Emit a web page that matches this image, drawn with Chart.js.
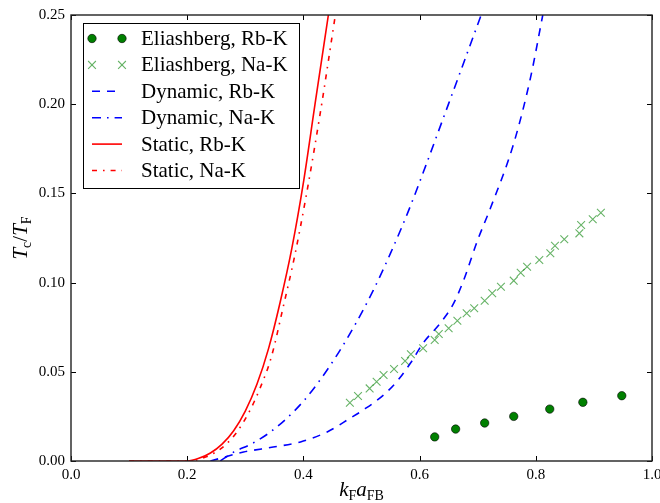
<!DOCTYPE html>
<html>
<head>
<meta charset="utf-8">
<script src="https://cdn.jsdelivr.net/npm/chart.js@4.4.1/dist/chart.umd.min.js"></script>
<style>
  html, body { margin: 0; padding: 0; background: #fff; }
  canvas { display: block; }
</style>
</head>
<body>
<canvas id="tcChart" width="660" height="503"></canvas>
<script>
// Eliashberg results (markers)
const eliRbX = [0.626, 0.662, 0.712, 0.762, 0.824, 0.881, 0.948];
const eliRbY = [0.0135, 0.0179, 0.0213, 0.0250, 0.0291, 0.0329, 0.0366];

const eliNaX = [0.480, 0.494, 0.514, 0.526, 0.538, 0.556, 0.575, 0.585, 0.606, 0.626,
                0.633, 0.650, 0.665, 0.681, 0.694, 0.712, 0.725, 0.740, 0.762, 0.774,
                0.785, 0.806, 0.825, 0.833, 0.849, 0.875, 0.878, 0.898, 0.912];
const eliNaY = [0.0327, 0.0364, 0.0407, 0.0444, 0.0482, 0.0516, 0.0561, 0.0598, 0.0632, 0.0678,
                0.0712, 0.0744, 0.0786, 0.0828, 0.0856, 0.0898, 0.0940, 0.0977, 0.1011, 0.1055,
                0.1089, 0.1127, 0.1164, 0.1207, 0.1243, 0.1276, 0.1323, 0.1355, 0.1392];

// dynamic screening curves
const dynRbX = [0.240, 0.297, 0.348, 0.395, 0.441, 0.481, 0.503, 0.538, 0.562, 0.585,
                0.607, 0.636, 0.659, 0.676, 0.700, 0.722, 0.762, 0.791, 0.812];
const dynRbY = [0.0, 0.0050, 0.0078, 0.0107, 0.0163, 0.0241, 0.0286, 0.0370, 0.0450, 0.0552,
                0.0665, 0.0774, 0.0886, 0.1015, 0.1239, 0.1418, 0.1780, 0.2150, 0.25];

const dynNaX = [0.257, 0.280, 0.310, 0.340, 0.370, 0.400, 0.430, 0.460, 0.490, 0.520,
                0.550, 0.580, 0.610, 0.640, 0.670, 0.706];
const dynNaY = [0.0, 0.0050, 0.0095, 0.0155, 0.0235, 0.0335, 0.0460, 0.0605, 0.0770, 0.0955,
                0.1165, 0.1395, 0.1650, 0.1915, 0.2180, 0.25];

// static screening curves
const staRbX = [0.100, 0.200, 0.220, 0.240, 0.260, 0.280, 0.300, 0.320, 0.340, 0.360, 0.380, 0.400, 0.420, 0.443];
const staRbY = [0.0, 0.0, 0.0015, 0.0045, 0.0095, 0.0170, 0.0280, 0.0430, 0.0630, 0.0890, 0.1190, 0.1560, 0.2000, 0.25];

const staNaX = [0.100, 0.205, 0.225, 0.245, 0.265, 0.285, 0.305, 0.325, 0.345, 0.365, 0.385, 0.405, 0.430, 0.455];
const staNaY = [0.0, 0.0, 0.0015, 0.0042, 0.0088, 0.0160, 0.0265, 0.0405, 0.0585, 0.0860, 0.1150, 0.1490, 0.1970, 0.25];

const labels = ['Eliashberg, Rb-K', 'Eliashberg, Na-K', 'Dynamic, Rb-K',
                'Dynamic, Na-K', 'Static, Rb-K', 'Static, Na-K'];

const xTicks = [0.0, 0.2, 0.4, 0.6, 0.8, 1.0];
const yTicks = [0.00, 0.05, 0.10, 0.15, 0.20, 0.25];

const SERIF = "'Liberation Serif', 'DejaVu Serif', serif";

function pts(xs, ys) {
    return xs.map((x, i) => ({ x: x, y: ys[i] }));
}

function curve(label, xs, ys, color, dash) {
    return {
        label: label,
        data: pts(xs, ys),
        showLine: true,
        borderColor: color,
        backgroundColor: color,
        borderWidth: 1.6,
        borderDash: dash,
        pointRadius: 0,
        fill: false,
        cubicInterpolationMode: 'monotone'
    };
}

// frame with inward ticks on all four sides
const frame = {
    id: 'frame',
    afterDraw(chart) {
        const { ctx, chartArea: a, scales: { x, y } } = chart;
        ctx.save();
        ctx.strokeStyle = '#000';
        ctx.lineWidth = 1;
        ctx.beginPath();
        xTicks.forEach(v => {
            const px = Math.round(x.getPixelForValue(v)) + 0.5;
            ctx.moveTo(px, a.bottom); ctx.lineTo(px, a.bottom - 5);
            ctx.moveTo(px, a.top); ctx.lineTo(px, a.top + 5);
        });
        yTicks.forEach(v => {
            const py = Math.round(y.getPixelForValue(v)) + 0.5;
            ctx.moveTo(a.left, py); ctx.lineTo(a.left + 5, py);
            ctx.moveTo(a.right, py); ctx.lineTo(a.right - 5, py);
        });
        ctx.stroke();
        ctx.strokeStyle = '#222';
        ctx.lineWidth = 1.4;
        ctx.strokeRect(a.left, a.top, a.right - a.left, a.bottom - a.top);
        ctx.restore();
    }
};

// text with a subscript part, pieces: [text, italic, sub]
function drawPieces(ctx, pieces, cx, base, big, small) {
    const fontOf = p => (p[1] ? 'italic ' : '') + (p[2] ? small : big) + 'px ' + SERIF;
    let w = 0;
    pieces.forEach(p => { ctx.font = fontOf(p); w += ctx.measureText(p[0]).width; });
    let x = cx - w / 2;
    ctx.textAlign = 'left';
    ctx.textBaseline = 'alphabetic';
    pieces.forEach(p => {
        ctx.font = fontOf(p);
        ctx.fillText(p[0], x, p[2] ? base + 4 : base);
        x += ctx.measureText(p[0]).width;
    });
}

const axisTitles = {
    id: 'axisTitles',
    afterDraw(chart) {
        const { ctx, chartArea: a } = chart;
        ctx.save();
        ctx.fillStyle = '#000';
        drawPieces(ctx, [['k', true, false], ['F', false, true], ['a', true, false], ['FB', false, true]],
            (a.left + a.right) / 2, 496, 21, 14);
        ctx.translate(27, (a.top + a.bottom) / 2);
        ctx.rotate(-Math.PI / 2);
        drawPieces(ctx, [['T', true, false], ['c', false, true], ['/', false, false], ['T', true, false], ['F', false, true]],
            0, 0, 21, 14);
        ctx.restore();
    }
};

// boxed legend in the upper left corner
const boxLegend = {
    id: 'boxLegend',
    afterDraw(chart) {
        const ctx = chart.ctx;
        const left = 83, top = 23, w = 216, h = 165;
        const rowH = 26.4, firstRow = 38.5;
        const h1 = 92, h2 = 122, textX = 141;
        ctx.save();
        ctx.fillStyle = '#fff';
        ctx.fillRect(left, top, w, h);
        ctx.strokeStyle = '#000';
        ctx.lineWidth = 1;
        ctx.strokeRect(left + 0.5, top + 0.5, w, h);
        chart.data.datasets.forEach((ds, i) => {
            const cy = firstRow + i * rowH;
            ctx.save();
            ctx.fillStyle = ds.backgroundColor;
            ctx.strokeStyle = ds.borderColor;
            ctx.lineWidth = ds.borderWidth;
            if (ds.showLine) {
                ctx.setLineDash(ds.borderDash || []);
                ctx.beginPath();
                ctx.moveTo(h1, cy); ctx.lineTo(h2, cy);
                ctx.stroke();
            } else {
                [h1, h2].forEach(mx => {
                    Chart.helpers.drawPoint(ctx, {
                        pointStyle: ds.pointStyle,
                        radius: ds.pointRadius,
                        rotation: 0,
                        borderWidth: ds.borderWidth
                    }, mx, cy);
                });
            }
            ctx.restore();
            ctx.fillStyle = '#000';
            ctx.font = '21px ' + SERIF;
            ctx.textAlign = 'left';
            ctx.textBaseline = 'middle';
            ctx.fillText(labels[i], textX, cy + 1);
        });
        ctx.restore();
    }
};

// keep the plot box fixed regardless of edge tick label widths
function noEdgePadding(s) {
    s.paddingLeft = 0;
    s.paddingRight = 0;
    s.paddingTop = 0;
    s.paddingBottom = 0;
}

new Chart(document.getElementById('tcChart'), {
    type: 'scatter',
    data: {
        datasets: [
            {
                label: labels[0],
                data: pts(eliRbX, eliRbY),
                pointStyle: 'circle',
                pointRadius: 4.2,
                backgroundColor: '#008000',
                borderColor: '#000',
                borderWidth: 0.6
            },
            {
                label: labels[1],
                data: pts(eliNaX, eliNaY),
                pointStyle: 'crossRot',
                pointRadius: 5.5,
                backgroundColor: 'rgba(0,128,0,0.6)',
                borderColor: 'rgba(0,128,0,0.6)',
                borderWidth: 1.1
            },
            curve(labels[2], dynRbX, dynRbY, '#0000ff', [8, 7]),
            curve(labels[3], dynNaX, dynNaY, '#0000ff', [9, 6, 1.6, 6]),
            curve(labels[4], staRbX, staRbY, '#ff0000', []),
            curve(labels[5], staNaX, staNaY, '#ff0000', [5, 6, 1.6, 6])
        ]
    },
    options: {
        responsive: false,
        animation: false,
        layout: { padding: { top: 15, right: 8, left: 0, bottom: 0 } },
        plugins: {
            legend: { display: false },
            tooltip: { enabled: false }
        },
        scales: {
            x: {
                type: 'linear',
                min: 0,
                max: 1,
                afterBuildTicks: s => { s.ticks = xTicks.map(v => ({ value: v })); },
                afterFit: s => { s.height = 42; noEdgePadding(s); },
                ticks: {
                    callback: v => v.toFixed(1),
                    color: '#000',
                    padding: 5,
                    maxRotation: 0,
                    font: { family: SERIF, size: 15 }
                },
                grid: { drawOnChartArea: false, drawTicks: false },
                border: { display: false }
            },
            y: {
                type: 'linear',
                min: 0,
                max: 0.25,
                afterBuildTicks: s => { s.ticks = yTicks.map(v => ({ value: v })); },
                afterFit: s => { s.width = 71; noEdgePadding(s); },
                ticks: {
                    callback: v => v.toFixed(2),
                    color: '#000',
                    padding: 6,
                    font: { family: SERIF, size: 15 }
                },
                grid: { drawOnChartArea: false, drawTicks: false },
                border: { display: false }
            }
        }
    },
    plugins: [frame, axisTitles, boxLegend]
});
</script>
</body>
</html>
